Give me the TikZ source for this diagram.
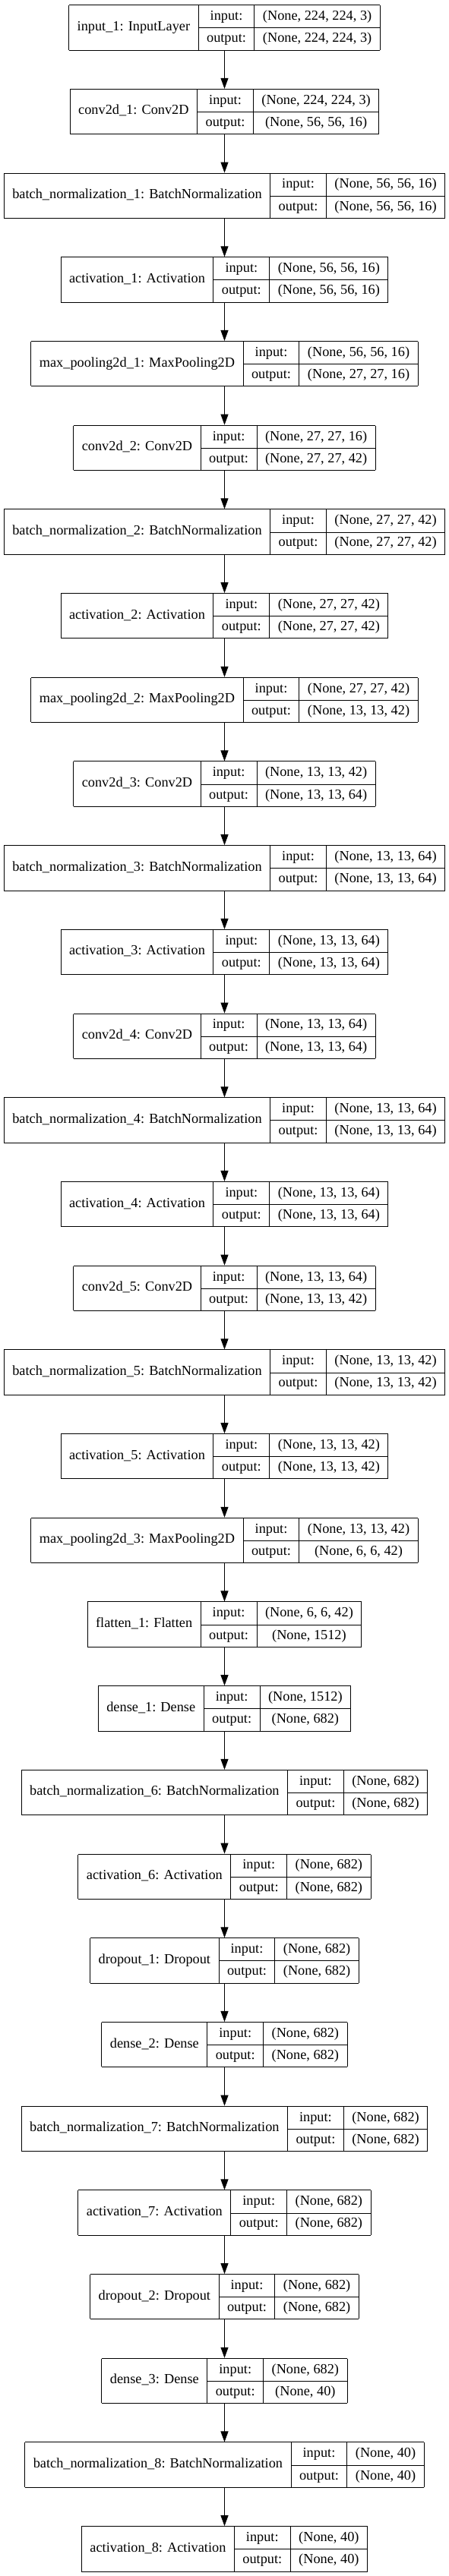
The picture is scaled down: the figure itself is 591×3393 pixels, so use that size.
\documentclass[tikz,border=0pt]{standalone}
\usepackage{fontspec}
\setmainfont{Liberation Serif}
\usetikzlibrary{arrows.meta}
\setlength\tabcolsep{11pt}
\setlength\arrayrulewidth{1pt}
\newcommand\rs{\rule[-9.8pt]{0pt}{29.2pt}}
\newcommand\klayer[5]{%
\node[kbox] (#1) at (295.5,{3393-36.4-110.7*#5}) {%
\begin{tabular}{|c|c|c|}\hline
 & \rs input: & #3\\ \cline{2-3}
\raisebox{15.5pt}[0pt][0pt]{#2} & \rs output: & #4\\ \hline
\end{tabular}};}
\begin{document}
\begin{tikzpicture}[x=1pt,y=1pt,
  kbox/.style={inner sep=0pt, outer sep=0pt, font=\fontsize{18.3pt}{22pt}\selectfont},
  karrow/.style={-{Triangle[length=14pt,width=10pt]}, line width=1pt}]
\fill[white] (0,0) rectangle (591,3393);
\useasboundingbox (0,0) rectangle (591,3393);
\klayer{l0}{input\_1: InputLayer}{(None, 224, 224, 3)}{(None, 224, 224, 3)}{0}
\klayer{l1}{conv2d\_1: Conv2D}{(None, 224, 224, 3)}{(None, 56, 56, 16)}{1}
\klayer{l2}{batch\_normalization\_1: BatchNormalization}{(None, 56, 56, 16)}{(None, 56, 56, 16)}{2}
\klayer{l3}{activation\_1: Activation}{(None, 56, 56, 16)}{(None, 56, 56, 16)}{3}
\klayer{l4}{max\_pooling2d\_1: MaxPooling2D}{(None, 56, 56, 16)}{(None, 27, 27, 16)}{4}
\klayer{l5}{conv2d\_2: Conv2D}{(None, 27, 27, 16)}{(None, 27, 27, 42)}{5}
\klayer{l6}{batch\_normalization\_2: BatchNormalization}{(None, 27, 27, 42)}{(None, 27, 27, 42)}{6}
\klayer{l7}{activation\_2: Activation}{(None, 27, 27, 42)}{(None, 27, 27, 42)}{7}
\klayer{l8}{max\_pooling2d\_2: MaxPooling2D}{(None, 27, 27, 42)}{(None, 13, 13, 42)}{8}
\klayer{l9}{conv2d\_3: Conv2D}{(None, 13, 13, 42)}{(None, 13, 13, 64)}{9}
\klayer{l10}{batch\_normalization\_3: BatchNormalization}{(None, 13, 13, 64)}{(None, 13, 13, 64)}{10}
\klayer{l11}{activation\_3: Activation}{(None, 13, 13, 64)}{(None, 13, 13, 64)}{11}
\klayer{l12}{conv2d\_4: Conv2D}{(None, 13, 13, 64)}{(None, 13, 13, 64)}{12}
\klayer{l13}{batch\_normalization\_4: BatchNormalization}{(None, 13, 13, 64)}{(None, 13, 13, 64)}{13}
\klayer{l14}{activation\_4: Activation}{(None, 13, 13, 64)}{(None, 13, 13, 64)}{14}
\klayer{l15}{conv2d\_5: Conv2D}{(None, 13, 13, 64)}{(None, 13, 13, 42)}{15}
\klayer{l16}{batch\_normalization\_5: BatchNormalization}{(None, 13, 13, 42)}{(None, 13, 13, 42)}{16}
\klayer{l17}{activation\_5: Activation}{(None, 13, 13, 42)}{(None, 13, 13, 42)}{17}
\klayer{l18}{max\_pooling2d\_3: MaxPooling2D}{(None, 13, 13, 42)}{(None, 6, 6, 42)}{18}
\klayer{l19}{flatten\_1: Flatten}{(None, 6, 6, 42)}{(None, 1512)}{19}
\klayer{l20}{dense\_1: Dense}{(None, 1512)}{(None, 682)}{20}
\klayer{l21}{batch\_normalization\_6: BatchNormalization}{(None, 682)}{(None, 682)}{21}
\klayer{l22}{activation\_6: Activation}{(None, 682)}{(None, 682)}{22}
\klayer{l23}{dropout\_1: Dropout}{(None, 682)}{(None, 682)}{23}
\klayer{l24}{dense\_2: Dense}{(None, 682)}{(None, 682)}{24}
\klayer{l25}{batch\_normalization\_7: BatchNormalization}{(None, 682)}{(None, 682)}{25}
\klayer{l26}{activation\_7: Activation}{(None, 682)}{(None, 682)}{26}
\klayer{l27}{dropout\_2: Dropout}{(None, 682)}{(None, 682)}{27}
\klayer{l28}{dense\_3: Dense}{(None, 682)}{(None, 40)}{28}
\klayer{l29}{batch\_normalization\_8: BatchNormalization}{(None, 40)}{(None, 40)}{29}
\klayer{l30}{activation\_8: Activation}{(None, 40)}{(None, 40)}{30}
\foreach \i [evaluate=\i as \j using int(\i+1)] in {0,...,29}
  \draw[karrow] (l\i.south) -- (l\j.north);
\end{tikzpicture}
\end{document}
